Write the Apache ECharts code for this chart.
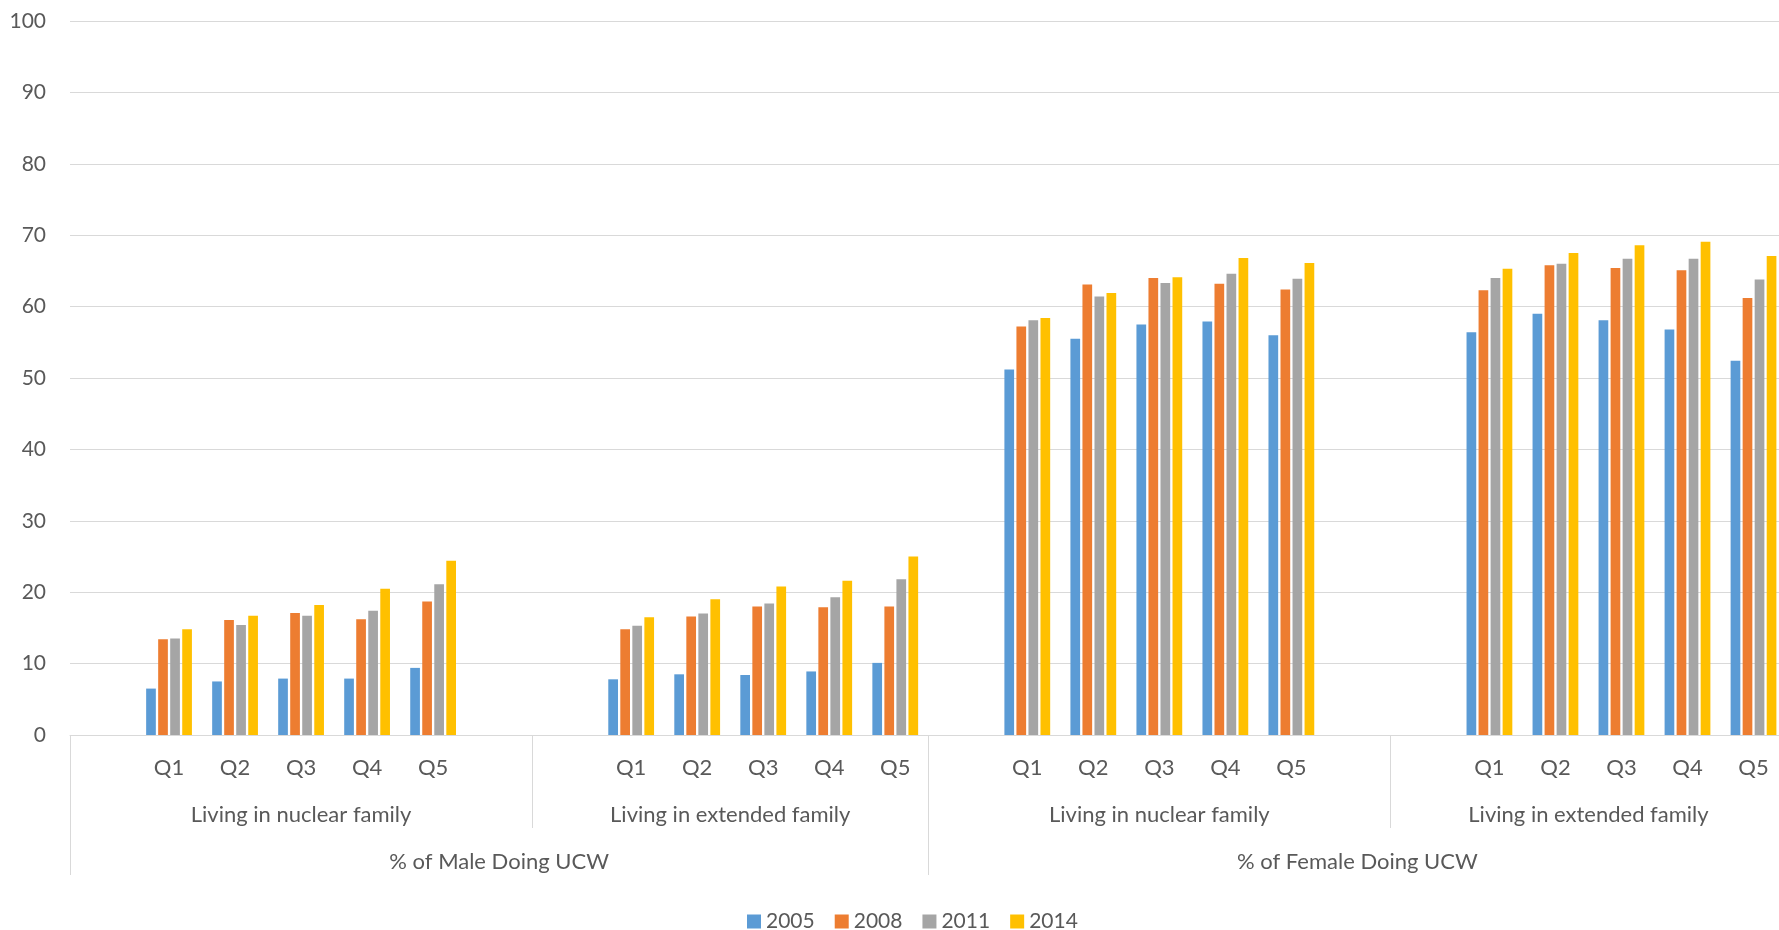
<!DOCTYPE html>
<html>
<head>
<meta charset="utf-8">
<title>UCW by household type and quintile</title>
<script src="https://cdn.jsdelivr.net/npm/echarts@6/dist/echarts.min.js"></script>
<style>
  html, body { margin: 0; padding: 0; background: #ffffff; }
  #chart { width: 1779px; height: 930px; }
</style>
</head>
<body>
<div id="chart"></div>
<script>
// Years shown in the legend, one bar series each
const years = ['2005', '2008', '2011', '2014'];
const yearColors = ['#5B9BD5', '#ED7D31', '#A5A5A5', '#FFC000'];

// Category levels of the x axis
const quintiles = ['Q1', 'Q2', 'Q3', 'Q4', 'Q5'];
const sections = ['Living in nuclear family', 'Living in extended family',
                  'Living in nuclear family', 'Living in extended family'];
const genders = ['% of Male Doing UCW', '% of Female Doing UCW'];

// Value axis ticks
const yTicks = [0, 10, 20, 30, 40, 50, 60, 70, 80, 90, 100];

// Share of children doing UCW (%), Q1..Q5 per section, sections in order above
const v2005 = [6.5, 7.5, 7.9, 7.9, 9.4,   7.8, 8.5, 8.4, 8.9, 10.1,
               51.2, 55.5, 57.5, 57.9, 56.0,   56.4, 59.0, 58.1, 56.8, 52.4];
const v2008 = [13.4, 16.1, 17.1, 16.2, 18.7,   14.8, 16.6, 18.0, 17.9, 18.0,
               57.2, 63.1, 64.0, 63.2, 62.4,   62.3, 65.8, 65.4, 65.1, 61.2];
const v2011 = [13.5, 15.4, 16.7, 17.4, 21.1,   15.3, 17.0, 18.4, 19.3, 21.8,
               58.1, 61.4, 63.3, 64.6, 63.9,   64.0, 66.0, 66.7, 66.7, 63.8];
const v2014 = [14.8, 16.7, 18.2, 20.5, 24.4,   16.5, 19.0, 20.8, 21.6, 25.0,
               58.4, 61.9, 64.1, 66.8, 66.1,   65.3, 67.5, 68.6, 69.1, 67.1];
const seriesValues = [v2005, v2008, v2011, v2014];

// Empty slots around each section's quintiles: [before, after]
const padding = [[1, 1], [1, 0], [1, 1], [1, 0]];
// Which sections make up each gender block
const genderSections = [[0, 1], [2, 3]];

// Build the flat category list and the section extents on it
const xCats = [];
const sectionStart = [];
const sectionEnd = [];
sections.forEach((name, s) => {
  sectionStart.push(xCats.length);
  for (let i = 0; i < padding[s][0]; i++) xCats.push('');
  quintiles.forEach(q => xCats.push(q));
  for (let i = 0; i < padding[s][1]; i++) xCats.push('');
  sectionEnd.push(xCats.length);
});
const nSlots = xCats.length;

function spread(values) {
  const out = [];
  sections.forEach((name, s) => {
    for (let i = 0; i < padding[s][0]; i++) out.push('-');
    quintiles.forEach((q, k) => out.push(values[s * quintiles.length + k]));
    for (let i = 0; i < padding[s][1]; i++) out.push('-');
  });
  return out;
}

// Positions (in slot units) for the grouped labels and divider ticks
const sectionCenters = sections.map((n, s) => (sectionStart[s] + sectionEnd[s]) / 2);
const genderStart = genderSections.map(g => sectionStart[g[0]]);
const genderEnd = genderSections.map(g => sectionEnd[g[g.length - 1]]);
const genderCenters = genders.map((n, g) => (genderStart[g] + genderEnd[g]) / 2);
const innerDividers = genderSections.map(g => sectionEnd[g[0]]);
const outerDividers = [genderStart[0]].concat(genderEnd);

const textColor = '#595959';
const lineColor = '#D9D9D9';
const fontFamily = 'Lato, "Open Sans", sans-serif';
const numSize = 21;
const textSize = 22;
const slotWidth = 66.02;

const chart = echarts.init(document.getElementById('chart'), null, { renderer: 'canvas' });

const option = {
  backgroundColor: '#ffffff',
  animation: false,
  textStyle: { fontFamily: fontFamily },
  grid: {
    left: 70, top: 21, width: slotWidth * nSlots, height: 714,
    containLabel: false, outerBoundsMode: 'none'
  },
  legend: {
    data: years,
    left: 742,
    top: 906,
    icon: 'rect',
    itemWidth: 14,
    itemHeight: 14,
    itemGap: 20,
    textStyle: { color: textColor, fontSize: numSize, fontFamily: fontFamily }
  },
  xAxis: [
    {
      type: 'category',
      data: xCats,
      position: 'bottom',
      axisLine: { show: true, lineStyle: { color: lineColor, width: 1 } },
      axisTick: { show: false },
      axisLabel: { color: textColor, fontSize: textSize, interval: 0, margin: 22 },
      splitLine: { show: false }
    },
    {
      type: 'value',
      min: 0,
      max: nSlots,
      position: 'bottom',
      axisLine: { show: false },
      splitLine: { show: false },
      axisTick: { show: true, customValues: innerDividers, length: 93,
                  lineStyle: { color: lineColor, width: 1 } },
      axisLabel: {
        customValues: sectionCenters,
        margin: 69,
        color: textColor,
        fontSize: textSize,
        formatter: v => sections[sectionCenters.indexOf(v)] || ''
      }
    },
    {
      type: 'value',
      min: 0,
      max: nSlots,
      position: 'bottom',
      axisLine: { show: false },
      splitLine: { show: false },
      axisTick: { show: true, customValues: outerDividers, length: 140,
                  lineStyle: { color: lineColor, width: 1 } },
      axisLabel: {
        customValues: genderCenters,
        margin: 116,
        color: textColor,
        fontSize: textSize,
        formatter: v => genders[genderCenters.indexOf(v)] || ''
      }
    }
  ],
  yAxis: {
    type: 'value',
    min: yTicks[0],
    max: yTicks[yTicks.length - 1],
    interval: yTicks[1] - yTicks[0],
    axisLine: { show: false },
    axisTick: { show: false },
    axisLabel: { color: textColor, fontSize: numSize, margin: 24 },
    splitLine: { show: true, lineStyle: { color: lineColor, width: 1.2 } }
  },
  series: years.map((y, i) => ({
    name: y,
    type: 'bar',
    xAxisIndex: 0,
    data: spread(seriesValues[i]),
    barWidth: 9.7,
    barGap: '24%',
    itemStyle: { color: yearColors[i] }
  }))
};

chart.setOption(option);
</script>
</body>
</html>
